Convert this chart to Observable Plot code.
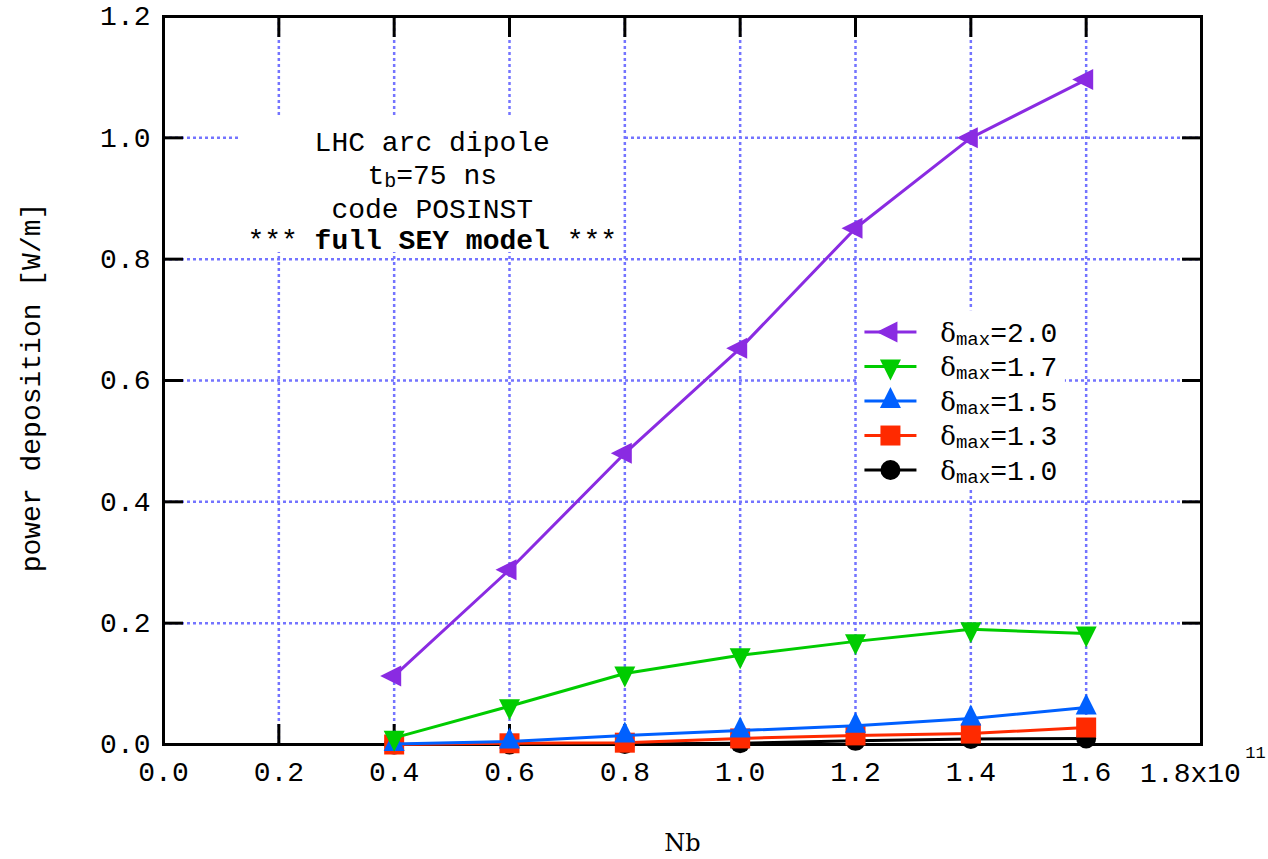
<!DOCTYPE html>
<html><head><meta charset="utf-8">
<script src="https://cdn.jsdelivr.net/npm/d3@7"></script>
<script src="https://cdn.jsdelivr.net/npm/@observablehq/plot@0.6"></script>
<style>body{margin:0;background:#fff;} svg{display:block;}</style>
</head><body><div id="chart"></div>
<script>
// ---- data ----
const nb = [0.4, 0.6, 0.8, 1.0, 1.2, 1.4, 1.6];
const d20 = [0.113, 0.288, 0.480, 0.653, 0.851, 1.000, 1.096];
const d17 = [0.011, 0.063, 0.117, 0.147, 0.170, 0.190, 0.183];
const d15 = [0.001, 0.005, 0.015, 0.023, 0.031, 0.043, 0.061];
const d13 = [0.000, 0.002, 0.003, 0.010, 0.015, 0.018, 0.028];
const d10 = [0.000, 0.000, 0.001, 0.002, 0.006, 0.009, 0.010];
const seriesNames = ["δmax=2.0", "δmax=1.7", "δmax=1.5", "δmax=1.3", "δmax=1.0"];
const seriesValues = [d20, d17, d15, d13, d10];
const seriesColors = ["#8a2be2", "#00cc00", "#0060ff", "#ff2a00", "#000000"];
const xTicks = [0, 0.2, 0.4, 0.6, 0.8, 1.0, 1.2, 1.4, 1.6, 1.8];
const xTickLabels = ["0.0", "0.2", "0.4", "0.6", "0.8", "1.0", "1.2", "1.4", "1.6", "1.8x10"];
const xExponent = "11";
const yTicks = [0, 0.2, 0.4, 0.6, 0.8, 1.0, 1.2];
const yTickLabels = ["0.0", "0.2", "0.4", "0.6", "0.8", "1.0", "1.2"];
const annotationLines = ["LHC arc dipole", "tb=75 ns", "code POSINST", "*** full SEY model ***"];
const xLabel = "Nb";
const yLabel = "power deposition [W/m]";

// ---- symbols (centroid-centred triangles) ----
const symLeft = {draw(c, size) { const r = Math.sqrt(size / Math.PI), w = 2 * r, h = 2 * r;
  c.moveTo(-2 * w / 3, 0); c.lineTo(w / 3, -h / 2); c.lineTo(w / 3, h / 2); c.closePath(); }};
const symDown = {draw(c, size) { const r = Math.sqrt(size / Math.PI), w = 2 * r, h = 2 * r;
  c.moveTo(0, 2 * h / 3); c.lineTo(-w / 2, -h / 3); c.lineTo(w / 2, -h / 3); c.closePath(); }};
const symUp = {draw(c, size) { const r = Math.sqrt(size / Math.PI), w = 2 * r, h = 2 * r;
  c.moveTo(0, -2 * h / 3); c.lineTo(-w / 2, h / 3); c.lineTo(w / 2, h / 3); c.closePath(); }};
const symSquare = {draw(c, size) { const r = Math.sqrt(size / Math.PI); c.rect(-r, -r, 2 * r, 2 * r); }};
const seriesSymbols = [symLeft, symDown, symUp, symSquare, "circle"];
const seriesR = [10.5, 10.5, 10.5, 10, 10];

const mono = "Liberation Mono, Courier New, monospace";
const FS = 28;
const gridColor = "#7474ff";

const xLabelMap = new Map(xTicks.map((t, i) => [t, xTickLabels[i]]));
const yLabelMap = new Map(yTicks.map((t, i) => [t, yTickLabels[i]]));

// annotation / legend placement (data units)
const annX = 0.466, annY = [0.978, 0.924, 0.868, 0.817];
const annBox = [{x1: 0.134, x2: 0.796, y1: 0.811, y2: 1.032}];
const legBox = [{x1: 1.205, x2: 1.564, y1: 0.419, y2: 0.715}];
const legTop = 0.680, legStep = 0.0569, legL1 = 1.2155, legL2 = 1.3057, legMark = 1.2606, legText = 1.347;

const marks = [
  Plot.gridX({ticks: xTicks.slice(1, -1), stroke: gridColor, strokeOpacity: 1, strokeWidth: 2.5, strokeDasharray: "3,3"}),
  Plot.gridY({ticks: yTicks.slice(1, -1), stroke: gridColor, strokeOpacity: 1, strokeWidth: 2.5, strokeDasharray: "3,3"}),
  Plot.rect(annBox, {x1: "x1", x2: "x2", y1: "y1", y2: "y2", fill: "white"}),
  Plot.rect(legBox, {x1: "x1", x2: "x2", y1: "y1", y2: "y2", fill: "white"}),
  Plot.frame({stroke: "black", strokeWidth: 3}),
  Plot.axisX({anchor: "bottom", ticks: xTicks, tickSize: -20, strokeWidth: 3, tickFormat: () => "", label: null}),
  Plot.axisX({anchor: "top", ticks: xTicks, tickSize: -20, strokeWidth: 3, tickFormat: () => "", label: null}),
  Plot.axisY({anchor: "left", ticks: yTicks, tickSize: -20, strokeWidth: 3, tickFormat: () => "", label: null}),
  Plot.axisY({anchor: "right", ticks: yTicks, tickSize: -20, strokeWidth: 3, tickFormat: () => "", label: null}),
  Plot.axisX({anchor: "bottom", ticks: xTicks.slice(0, -1), tickSize: 0, tickPadding: 17, tickFormat: d => xLabelMap.get(d),
    fontSize: FS, fontFamily: mono, fill: "black", label: null}),
  Plot.axisY({anchor: "left", ticks: yTicks, tickSize: 0, tickPadding: 13, tickFormat: d => yLabelMap.get(d),
    fontSize: FS, fontFamily: mono, fill: "black", label: null}),
  Plot.text(xTicks.slice(-1), {x: d => d, frameAnchor: "bottom", text: () => xTickLabels[xTickLabels.length - 1],
    dx: -11, dy: 37, lineAnchor: "bottom", fontSize: FS, fontFamily: mono, fill: "black"}),
  Plot.text(xTicks.slice(-1), {x: d => d, frameAnchor: "bottom", text: () => xExponent,
    dx: 54, dy: 13, lineAnchor: "bottom", fontSize: 17, fontFamily: mono, fill: "black"}),
  Plot.text([yLabel], {frameAnchor: "left", rotate: -90, dx: -132, dy: 7, textAnchor: "middle", lineAnchor: "middle",
    fontSize: FS, fontFamily: mono, fill: "black"}),
  Plot.text([xLabel], {frameAnchor: "bottom", dy: 106, textAnchor: "middle", lineAnchor: "bottom",
    fontSize: 24, fontFamily: "DejaVu Serif, serif", fill: "black"})
];

// series: draw from bottom (δ=1.0) to top (δ=2.0)
for (let s = seriesNames.length - 1; s >= 0; --s) {
  const rows = nb.map((x, i) => ({x, y: seriesValues[s][i]}));
  marks.push(Plot.line(rows, {x: "x", y: "y", stroke: seriesColors[s], strokeWidth: 3}));
  marks.push(Plot.dot(rows, {x: "x", y: "y", symbol: seriesSymbols[s], r: seriesR[s], fill: seriesColors[s], stroke: "none"}));
}

// legend
seriesNames.forEach((name, i) => {
  const row = [{name, y: legTop - i * legStep}];
  marks.push(Plot.link(row, {x1: () => legL1, x2: () => legL2, y1: "y", y2: "y", stroke: seriesColors[i], strokeWidth: 3}));
  marks.push(Plot.dot(row, {x: () => legMark, y: "y", symbol: seriesSymbols[i], r: seriesR[i], fill: seriesColors[i], stroke: "none"}));
  marks.push(Plot.text(row, {x: () => legText, y: "y", text: "name", textAnchor: "start", lineAnchor: "middle", dy: 1,
    fontSize: FS, fontFamily: mono, fill: "black"}));
});

// annotation
annotationLines.forEach((line, i) => {
  marks.push(Plot.text([line], {x: () => annX, y: () => annY[i], lineAnchor: "bottom", textAnchor: "middle",
    fontSize: FS, fontFamily: mono, fill: "black"}));
});

const chart = Plot.plot({
  width: 1268, height: 859,
  marginLeft: 163, marginRight: 67, marginTop: 16, marginBottom: 115,
  x: {domain: [0, 1.8]},
  y: {domain: [0, 1.2]},
  style: {background: "white"},
  marks
});

// rich text: subscripts, bold, greek
chart.querySelectorAll("text").forEach(t => {
  const s = t.textContent;
  if (s === "tb=75 ns") {
    t.innerHTML = 't<tspan font-size="20" dy="3">b</tspan><tspan dy="-3">=75 ns</tspan>';
  } else if (s === "*** full SEY model ***") {
    t.innerHTML = '*** <tspan font-weight="bold">full SEY model</tspan> ***';
  } else if (seriesNames.includes(s)) {
    const rest = s.slice(4);
    t.innerHTML = '<tspan font-family="DejaVu Serif, serif" font-size="26">δ</tspan><tspan font-size="19" dy="3">max</tspan><tspan dy="-3">' + rest + '</tspan>';
  }
});
document.getElementById("chart").appendChild(chart);
</script>
</body></html>
